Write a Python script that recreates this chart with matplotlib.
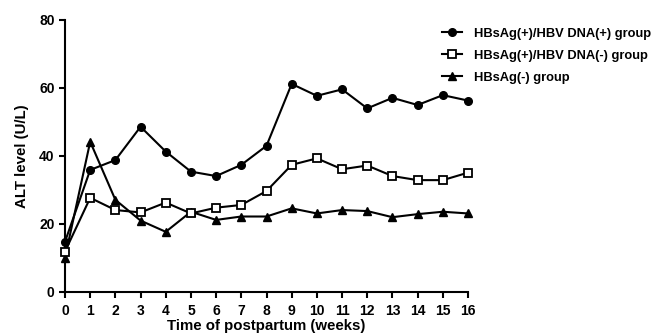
import matplotlib
matplotlib.use("Agg")
import matplotlib.pyplot as plt

plt.rcParams['font.family'] = ['Liberation Sans', 'DejaVu Sans']
plt.rcParams['font.weight'] = 'bold'

weeks = list(range(17))
dna_pos = [14.8, 35.9, 38.8, 48.6, 41.3, 35.4, 34.1, 37.4, 43.0, 61.2, 57.7,
           59.6, 54.0, 57.1, 55.0, 57.9, 56.3]
dna_neg = [11.9, 27.7, 24.1, 23.4, 26.3, 23.1, 24.8, 25.6, 29.7, 37.4, 39.3,
           36.1, 37.2, 34.1, 32.9, 32.9, 35.1]
hbsag_neg = [10.1, 44.2, 27.1, 21.0, 17.7, 23.6, 21.2, 22.2, 22.2, 24.6, 23.1,
             24.1, 23.8, 22.0, 22.9, 23.6, 23.1]
labels = ["HBsAg(+)/HBV DNA(+) group", "HBsAg(+)/HBV DNA(-) group", "HBsAg(-) group"]
y_ticks = [0, 20, 40, 60, 80]

fig = plt.figure(figsize=(6.54, 3.35), dpi=100)
ax = fig.add_axes([0.0994, 0.1284, 0.6162, 0.8119])

lw = 1.5
ax.plot(weeks, dna_pos, color='black', lw=lw, marker='o', ms=5.5,
        mfc='black', mec='black', label=labels[0], zorder=3, clip_on=False)
ax.plot(weeks, dna_neg, color='black', lw=lw, marker='s', ms=6,
        mfc='white', mec='black', mew=1.3, label=labels[1], zorder=4, clip_on=False)
ax.plot(weeks, hbsag_neg, color='black', lw=lw, marker='^', ms=5.5,
        mfc='black', mec='black', label=labels[2], zorder=3, clip_on=False)

ax.set_xlim(0, 16)
ax.set_ylim(0, 80)
ax.set_xticks(weeks)
ax.set_yticks(y_ticks)
for s in ['top', 'right']:
    ax.spines[s].set_visible(False)
for s in ['left', 'bottom']:
    ax.spines[s].set_linewidth(1.5)
ax.tick_params(axis='both', direction='out', length=4.5, width=1.5,
               labelsize=10, pad=3)
ax.tick_params(axis='x', pad=4)
for t in ax.get_xticklabels() + ax.get_yticklabels():
    t.set_fontweight('bold')

ax.set_xlabel("Time of postpartum (weeks)", fontsize=10.8, fontweight='bold', labelpad=1)
ax.set_ylabel("ALT level (U/L)", fontsize=10.8, fontweight='bold', labelpad=7)

leg = fig.legend(loc='upper left', bbox_to_anchor=(442 / 654, 1 - 27.5 / 335),
                 bbox_transform=fig.transFigure, frameon=False,
                 fontsize=9.3, handlelength=1.55, handletextpad=0.93,
                 labelspacing=0.78, borderpad=0, borderaxespad=0)
for t in leg.get_texts():
    t.set_fontweight('bold')

fig.savefig("out.png", dpi=100)
